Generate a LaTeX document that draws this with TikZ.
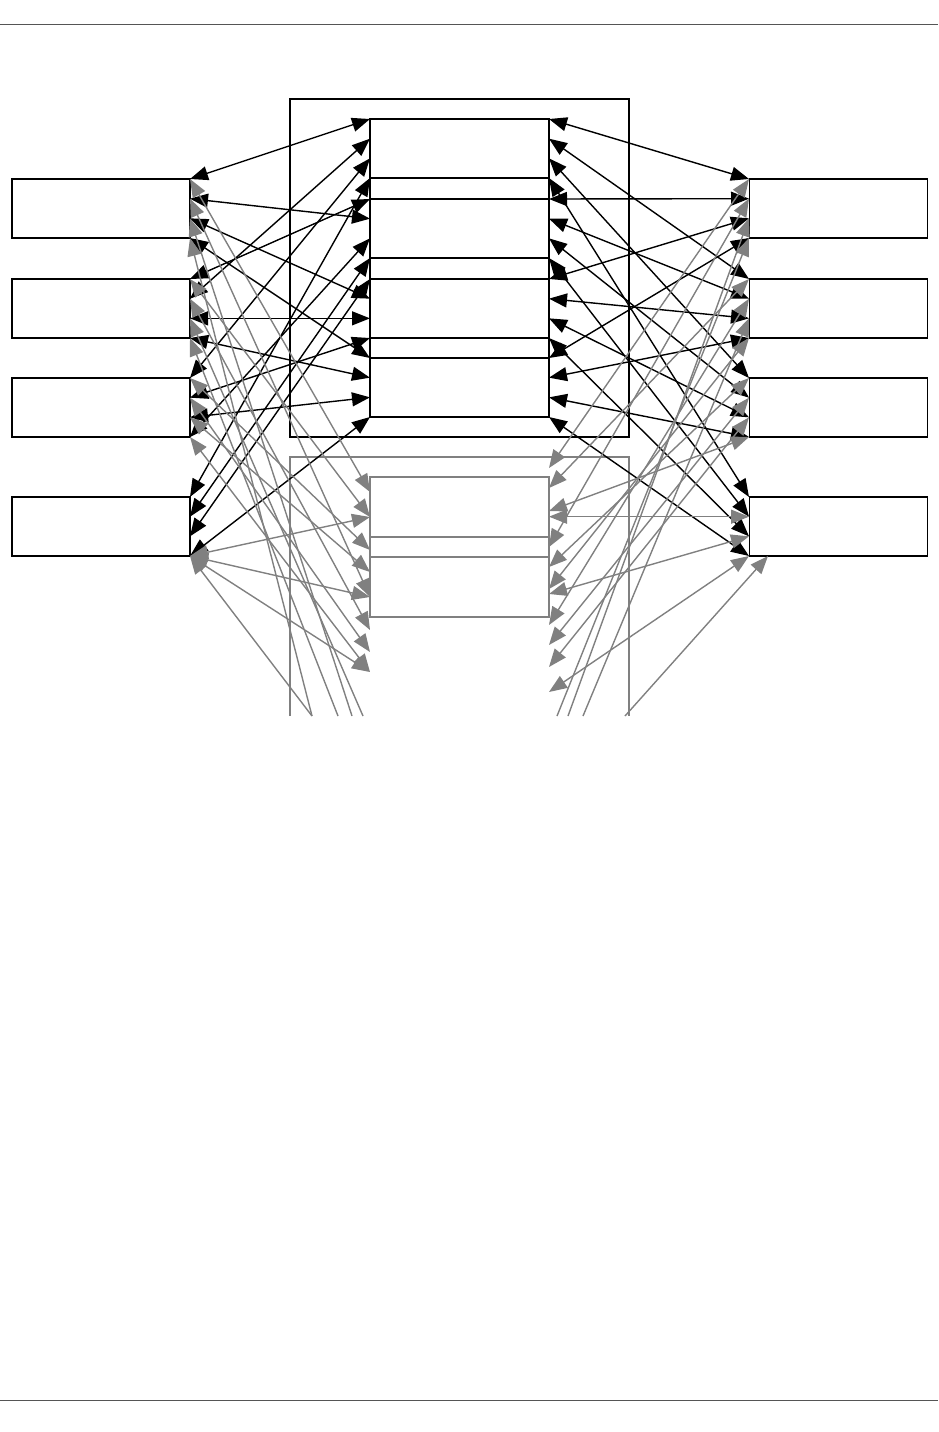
\documentclass[tikz,border=0pt]{standalone}
\usetikzlibrary{arrows.meta}
\definecolor{lg}{HTML}{808080}
\definecolor{rule}{HTML}{555555}
\begin{document}
\begin{tikzpicture}[x=1pt,y=-1pt,
  box/.style={draw=black,line width=1.8pt,minimum width=178pt,minimum height=59pt,inner sep=0pt,outer sep=0pt},
  gbox/.style={draw=lg,line width=1.8pt,minimum width=179pt,minimum height=60pt,inner sep=0pt,outer sep=0pt},
  tip/.style={Triangle[length=18pt,width=14pt]},
  conn/.style={draw=black,line width=1.4pt,{Triangle[length=18pt,width=14pt]}-{Triangle[length=18pt,width=14pt]}},
  gconn/.style={draw=lg,line width=1.4pt,{Triangle[length=18pt,width=14pt]}-{Triangle[length=18pt,width=14pt]}},
  gcut/.style={draw=lg,line width=1.4pt,{Triangle[length=18pt,width=14pt]}-}]
\useasboundingbox (0,0) rectangle (938,1432);
% page rules
\coordinate (hl) at (0,24); \coordinate (hr) at (938,24);
\coordinate (fl) at (0,1400); \coordinate (fr) at (938,1400);
\draw[rule,line width=0.8pt] (hl) -- (hr);
\draw[rule,line width=0.8pt] (fl) -- (fr);
% outer frames
\draw[black,line width=1.2pt] (290,99) rectangle (629,437);
\draw[lg,line width=1.2pt] (290,716) -- (290,457) -- (629,457) -- (629,716);
% side boxes
\foreach \i/\t in {1/179,2/279,3/378,4/497}{
  \node[box] (L\i) at (101,{\t+29.5}) {};
  \node[box] (R\i) at (838.5,{\t+29.5}) {};
  \foreach \k in {0,1,2,3}{
    \coordinate (L\i-\k) at (190,{\t+19.67*\k});
    \coordinate (R\i-\k) at (749,{\t+19.67*\k});
  }
}
% middle boxes
\foreach \j/\t in {1/119,2/199,3/279,4/358}{
  \node[box,minimum width=179pt] (M\j) at (459.5,{\t+29.5}) {};
  \foreach \k in {0,1,2,3}{
    \coordinate (Mq\j-\k) at (370,{\t+19.67*\k});
    \coordinate (Mr\j-\k) at (549,{\t+19.67*\k});
  }
}
\draw[line width=1.8pt] (M1.south west) -- (M2.north west) (M2.south west) -- (M3.north west) (M3.south west) -- (M4.north west);
\draw[line width=1.8pt] (M1.south east) -- (M2.north east) (M2.south east) -- (M3.north east) (M3.south east) -- (M4.north east);
% gray middle boxes
\node[gbox] (G1) at (459.5,507) {};
\node[gbox] (G2) at (459.5,587) {};
\draw[lg,line width=1.8pt] (G1.south west) -- (G2.north west) (G1.south east) -- (G2.north east);
% black connectors, left
\foreach \a/\b in {1-0/1-0, 1-1/2-1, 1-2/3-1, 1-3/4-0, 2-0/2-0, 2-1/1-1, 2-2/3-2, 2-3/4-1, 3-0/1-2, 3-1/3-3, 3-2/4-2, 3-3/2-2, 4-0/1-3, 4-1/2-3, 4-2/3-0, 4-3/4-3}
  \draw[conn] (L\a) -- (Mq\b);
% black connectors, right
\foreach \j in {1,...,4}{
  \foreach \k in {1,...,4}{
    \pgfmathtruncatemacro\jm{\j-1}
    \pgfmathtruncatemacro\km{\k-1}
    \draw[conn] (Mr\j-\km) -- (R\k-\jm);
  }
}
% gray end points
\coordinate (GLa) at (370,492); \coordinate (GLb) at (370,517);
\coordinate (GLc) at (370,550); \coordinate (GLd) at (370,572);
\coordinate (GLe) at (370,597); \coordinate (GLf) at (370,630);
\coordinate (GLg) at (370,652); \coordinate (GLh) at (370,672);
\coordinate (CLa) at (312,716); \coordinate (CLb) at (338,716);
\coordinate (CLc) at (352,716); \coordinate (CLd) at (363,716);
\coordinate (GRa) at (549,468); \coordinate (GRb) at (549,488);
\coordinate (GRc) at (549,511); \coordinate (GRd) at (549,516.67);
\coordinate (GRe) at (549,547); \coordinate (GRf) at (549,567);
\coordinate (GRg) at (549,589); \coordinate (GRh) at (549,594);
\coordinate (GRi) at (549,625); \coordinate (GRj) at (549,645);
\coordinate (GRk) at (549,667); \coordinate (GRl) at (549,692);
\coordinate (CRa) at (557,716); \coordinate (CRb) at (568,716);
\coordinate (CRc) at (583,716); \coordinate (CRd) at (625,716);
\coordinate (Rx) at (768,556);
% gray connectors, left
\foreach \a/\b in {1-0/GLa, 1-1/GLe, 2-0/GLb, 2-1/GLf, 3-0/GLc, 3-1/GLg, 3-2/GLd, 3-3/GLh, 4-3/GLb, 4-3/GLe, 4-3/GLh}
  \draw[gconn] (L\a) -- (\b);
\foreach \a/\b in {1-2/CLc, 1-3/CLa, 2-2/CLd, 2-3/CLb, 4-3/CLa}
  \draw[gcut] (L\a) -- (\b);
% gray connectors, right
\foreach \a/\b in {1-0/GRa, 1-1/GRe, 2-0/GRb, 2-1/GRi, 2-3/GRg, 3-0/GRf, 3-1/GRj, 3-2/GRk, 3-3/GRc, 4-1/GRd, 4-2/GRh, 4-3/GRl}
  \draw[gconn] (R\a) -- (\b);
\foreach \a/\b in {1-2/CRb, 1-3/CRa, 2-2/CRc}
  \draw[gcut] (R\a) -- (\b);
\draw[gcut] (Rx) -- (CRd);
\end{tikzpicture}
\end{document}
